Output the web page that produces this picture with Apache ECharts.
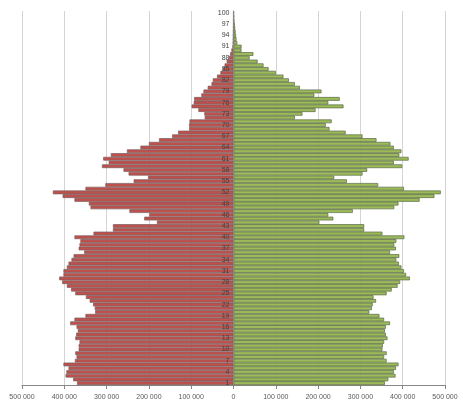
<!DOCTYPE html>
<html><head><meta charset="utf-8">
<script src="https://cdn.jsdelivr.net/npm/echarts@6/dist/echarts.min.js"></script>
<style>html,body{margin:0;padding:0;background:#fff}#c{width:463px;height:401px}</style>
</head><body><div id="c"></div>
<script>
var ages = [1,2,3,4,5,6,7,8,9,10,11,12,13,14,15,16,17,18,19,20,21,22,23,24,25,26,27,28,29,30,31,32,33,34,35,36,37,38,39,40,41,42,43,44,45,46,47,48,49,50,51,52,53,54,55,56,57,58,59,60,61,62,63,64,65,66,67,68,69,70,71,72,73,74,75,76,77,78,79,80,81,82,83,84,85,86,87,88,89,90,91,92,93,94,95,96,97,98,99,100];
var leftValues = [370000,379000,397000,395000,390000,402000,375000,371000,374000,366000,366000,364000,374000,372000,368000,371000,386000,376000,350000,327000,328000,332000,340000,349000,374000,384000,394000,405000,412000,402000,402000,394000,390000,383000,378000,353000,366000,364000,362000,376000,331000,285000,285000,181000,211000,199000,246000,338000,342000,376000,404000,427000,350000,303000,236000,202000,248000,260000,311000,295000,308000,290000,252000,220000,200000,176000,145000,131000,105000,105000,104000,68000,69000,83000,99000,94000,93000,76000,71000,61000,52000,49000,39000,31000,25000,21000,16000,11000,8000,5000,2400,1800,1300,1000,700,500,400,300,200,150];
var rightValues = [358000,366000,383000,379000,384000,390000,362000,356000,362000,352000,353000,356000,364000,360000,358000,360000,370000,356000,345000,321000,327000,329000,337000,331000,362000,374000,388000,394000,417000,408000,403000,397000,391000,385000,392000,370000,384000,380000,385000,404000,352000,309000,309000,203000,236000,224000,282000,380000,390000,440000,475000,490000,403000,342000,268000,238000,305000,316000,399000,379000,414000,392000,397000,379000,371000,338000,305000,265000,227000,218000,232000,145000,163000,194000,260000,224000,251000,191000,208000,157000,145000,131000,118000,100000,83000,71000,57000,38000,47000,19000,19000,9000,7000,6000,5000,4000,3000,2000,1500,1000];
var xMin = -500000, xMax = 500000, xStep = 100000;

function fmt(v){ v = Math.abs(v); if (v === 0) return '0'; var s = String(v); return s.replace(/\B(?=(\d{3})+(?!\d))/g, ' '); }

var gridLeft = 22;
var chart = echarts.init(document.getElementById('c'), null, {renderer:'canvas'});
chart.setOption({
  animation:false,
  backgroundColor:'#ffffff',
  grid:{left:gridLeft, right:18, top:11, bottom:16, containLabel:false},
  xAxis:{
    type:'value', min:xMin, max:xMax, interval:xStep,
    axisLine:{show:true, lineStyle:{color:'#868686', width:1}},
    axisTick:{show:true, length:4, lineStyle:{color:'#868686'}},
    axisLabel:{formatter:fmt, fontSize:7, color:'#595959', fontFamily:'Liberation Sans, Arial', margin:9},
    splitLine:{show:true, lineStyle:{color:'#d4d4d4', width:1}}
  },
  yAxis:{
    type:'category', data:ages, z:10, position:'left', offset:0,
    axisLine:{show:true, onZero:false, lineStyle:{color:'#868686', width:1}},
    axisTick:{show:false},
    axisLabel:{interval:2, fontSize:7, color:'#404040', fontFamily:'Liberation Sans, Arial', margin:4},
    splitLine:{show:false}
  },
  series:[
    {type:'bar', stack:'p', data:leftValues.map(function(v){return -v;}), barCategoryGap:'0%',
     itemStyle:{color:'#c0504d', borderColor:'#76605f', borderWidth:0.7}},
    {type:'bar', stack:'p', data:rightValues, barCategoryGap:'0%',
     itemStyle:{color:'#9bbb59', borderColor:'#5a6845', borderWidth:0.7}}
  ]
});
var zeroPx = chart.convertToPixel({xAxisIndex:0}, 0);
chart.setOption({yAxis:{offset: -(zeroPx - gridLeft)}});
</script></body></html>
